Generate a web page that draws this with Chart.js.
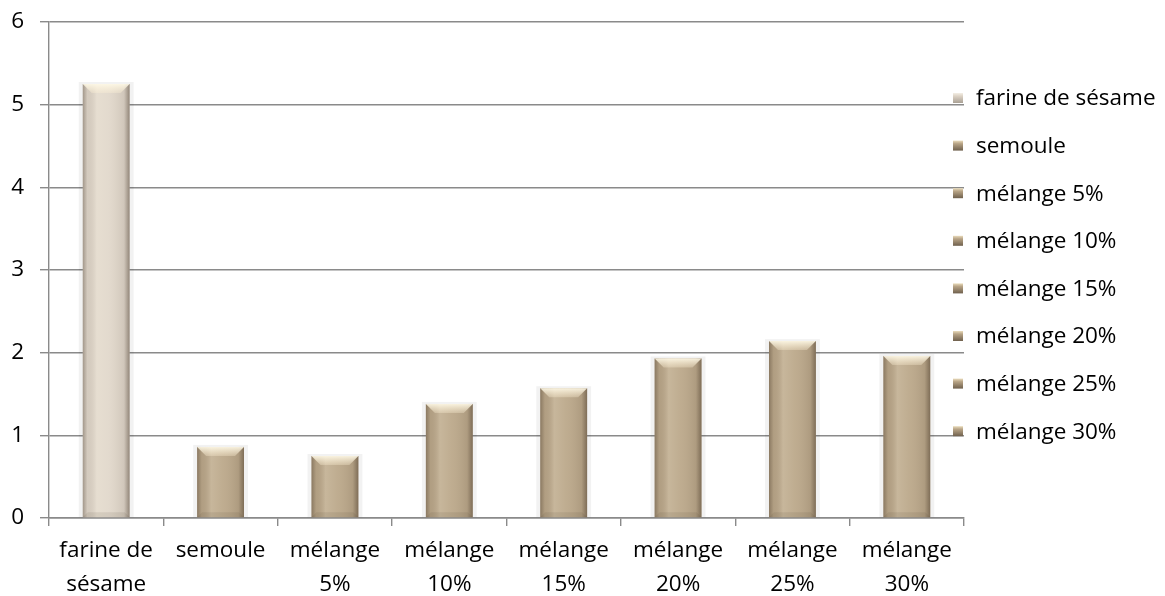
<!DOCTYPE html>
<html>
<head>
<meta charset="utf-8">
<title>Farine de sésame et mélanges</title>
<script src="https://cdn.jsdelivr.net/npm/chart.js@4"></script>
<style>
  html, body { margin: 0; padding: 0; background: #ffffff; }
  canvas { display: block; }
</style>
</head>
<body>
<canvas id="chart" width="1165" height="596"></canvas>
<script>
// Sample names, as used in the legend
const categories = [
  'farine de sésame', 'semoule', 'mélange 5%', 'mélange 10%',
  'mélange 15%', 'mélange 20%', 'mélange 25%', 'mélange 30%'
];
// Axis labels, split over two lines
const tickLabels = [
  ['farine de', 'sésame'], 'semoule', ['mélange', '5%'], ['mélange', '10%'],
  ['mélange', '15%'], ['mélange', '20%'], ['mélange', '25%'], ['mélange', '30%']
];
const values = [5.25, 0.86, 0.75, 1.38, 1.57, 1.93, 2.14, 1.96];
const yTicks = [0, 1, 2, 3, 4, 5, 6];

const sesameColor = '#e1d8cc';
const blendColor = '#bba88b';
const barColors = categories.map((c, i) => i === 0 ? sesameColor : blendColor);

const FONT = "'Open Sans', 'Noto Sans', sans-serif";
const FONT_SIZE = 22.5;
const GRID = '#8a8a8a';

// soft halo behind each bar
const haloPlugin = {
  id: 'halo',
  beforeDatasetsDraw(chart) {
    const ctx = chart.ctx;
    ctx.save();
    chart.getDatasetMeta(0).data.forEach(el => {
      const p = el.getProps(['x', 'y', 'width', 'base'], true);
      const l = p.x - p.width / 2;
      ctx.fillStyle = 'rgba(0,0,0,0.05)';
      ctx.fillRect(l - 4, p.y - 2, p.width + 8, p.base - p.y + 2);
    });
    ctx.restore();
  }
};

// rounded cylinder shading and bevelled ends over each bar
const bevelPlugin = {
  id: 'bevel',
  afterDatasetsDraw(chart) {
    const ctx = chart.ctx;
    ctx.save();
    chart.getDatasetMeta(0).data.forEach(el => {
      const p = el.getProps(['x', 'y', 'width', 'base'], true);
      const l = p.x - p.width / 2, r = p.x + p.width / 2;
      const t = p.y, b = p.base, w = p.width;
      const g = ctx.createLinearGradient(l, 0, r, 0);
      g.addColorStop(0, 'rgba(60,45,30,0.38)');
      g.addColorStop(0.1, 'rgba(60,45,30,0.08)');
      g.addColorStop(0.3, 'rgba(255,248,230,0.18)');
      g.addColorStop(0.55, 'rgba(255,248,230,0.06)');
      g.addColorStop(0.88, 'rgba(60,45,30,0.10)');
      g.addColorStop(1, 'rgba(60,45,30,0.48)');
      ctx.fillStyle = g;
      ctx.fillRect(l, t, w, b - t);
      const bev = 9;
      // top bevel
      const tg = ctx.createLinearGradient(0, t, 0, t + bev);
      tg.addColorStop(0, 'rgba(255,250,232,0.9)');
      tg.addColorStop(1, 'rgba(255,242,215,0.3)');
      ctx.fillStyle = tg;
      ctx.beginPath();
      ctx.moveTo(l, t);
      ctx.lineTo(r, t);
      ctx.lineTo(r - bev, t + bev);
      ctx.lineTo(l + bev, t + bev);
      ctx.closePath();
      ctx.fill();
      // bottom bevel
      ctx.fillStyle = 'rgba(70,55,40,0.10)';
      ctx.beginPath();
      ctx.moveTo(l, b);
      ctx.lineTo(r, b);
      ctx.lineTo(r - 5, b - 5);
      ctx.lineTo(l + 5, b - 5);
      ctx.closePath();
      ctx.fill();
    });
    ctx.restore();
  }
};

// category legend on the right
const legendPlugin = {
  id: 'sideLegend',
  afterDraw(chart) {
    const ctx = chart.ctx;
    const area = chart.chartArea;
    ctx.save();
    ctx.font = FONT_SIZE + 'px ' + FONT;
    ctx.textBaseline = 'middle';
    ctx.textAlign = 'left';
    categories.forEach((name, i) => {
      const cy = area.top + 76 + i * 47.6;
      const mx = area.right - 11, ms = 10;
      const g = ctx.createLinearGradient(0, cy - ms / 2, 0, cy + ms / 2);
      g.addColorStop(0, i === 0 ? '#f4efe6' : '#eadcbc');
      g.addColorStop(0.3, i === 0 ? '#ddd3c6' : '#b8a486');
      g.addColorStop(1, i === 0 ? '#a9a094' : '#6f604d');
      ctx.fillStyle = g;
      ctx.fillRect(mx, cy - ms / 2, ms, ms);
      ctx.fillStyle = '#000000';
      ctx.fillText(name, area.right + 12, cy + 1);
    });
    ctx.restore();
  }
};

new Chart(document.getElementById('chart'), {
  type: 'bar',
  data: {
    labels: tickLabels,
    datasets: [{
      data: values,
      backgroundColor: barColors,
      borderWidth: 0,
      barPercentage: 0.41,
      categoryPercentage: 1
    }]
  },
  options: {
    responsive: false,
    animation: false,
    layout: { padding: { top: 22, right: 201, left: 0, bottom: 0 } },
    plugins: {
      legend: { display: false },
      tooltip: { enabled: false }
    },
    scales: {
      y: {
        min: 0,
        max: 6,
        afterFit(scale) {
          scale.width = 49;
          scale.paddingTop = 0;
          scale.paddingBottom = 0;
        },
        afterBuildTicks(scale) { scale.ticks = yTicks.map(v => ({ value: v })); },
        ticks: {
          color: '#000000',
          font: { family: FONT, size: FONT_SIZE },
          padding: 16
        },
        grid: { color: GRID, lineWidth: 1.4, tickLength: 9 },
        border: { display: true, color: GRID, width: 1.4 }
      },
      x: {
        offset: true,
        afterFit(scale) { scale.height = 78; },
        ticks: {
          color: '#000000',
          font: { family: FONT, size: FONT_SIZE, lineHeight: 1.5 },
          padding: 8,
          autoSkip: false,
          maxRotation: 0
        },
        grid: {
          offset: true,
          drawOnChartArea: false,
          color: GRID,
          lineWidth: 1.4,
          tickLength: 8
        },
        border: { display: true, color: GRID, width: 1.4 }
      }
    }
  },
  plugins: [haloPlugin, bevelPlugin, legendPlugin]
});
</script>
</body>
</html>
